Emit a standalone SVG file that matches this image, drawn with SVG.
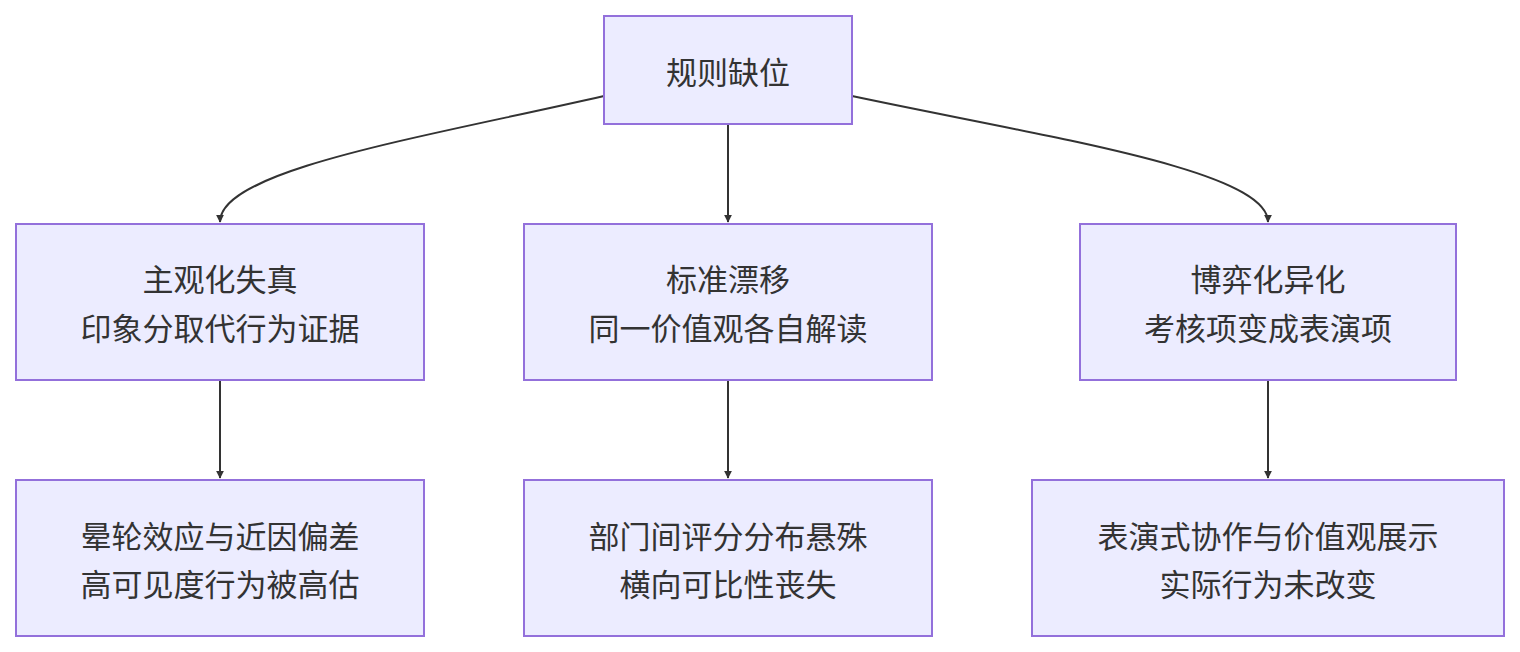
<svg xmlns="http://www.w3.org/2000/svg" width="1520" height="652" viewBox="0 0 1520 652">
<style>
.n rect{fill:#ECECFF;stroke:#9370DB;stroke-width:2}
.n text{font-family:"Noto Sans CJK SC","Noto Sans",sans-serif;font-size:31px;fill:#333;text-anchor:middle;dominant-baseline:central}
.e path{fill:none;stroke:#333;stroke-width:2;marker-end:url(#a)}
</style>
<defs><marker id="a" viewBox="0 0 10 10" refX="9" refY="5" markerWidth="8" markerHeight="8" markerUnits="userSpaceOnUse" orient="auto"><path d="M0,0L10,5L0,10z" fill="#333"/></marker></defs>
<rect width="1520" height="652" fill="#fff"/>
<g class="e">
<path d="M604,96 C420,138 220,170 220,222" transform="translate(0,0)"/>
<path d="M728,124 V222"/>
<path d="M852,96 C1050,138 1268,170 1268,222"/>
<path d="M220,380 V478"/>
<path d="M728,380 V478"/>
<path d="M1268,380 V478"/>
</g>
<g class="n" id="n0"><rect x="604" y="16" width="248" height="108"/><text x="728" y="70">规则缺位</text></g>
<g class="n" id="n1"><rect x="16" y="224" width="408" height="156"/><text x="220" y="277">主观化失真</text><text x="220" y="326">印象分取代行为证据</text></g>
<g class="n" id="n2"><rect x="524" y="224" width="408" height="156"/><text x="728" y="277">标准漂移</text><text x="728" y="326">同一价值观各自解读</text></g>
<g class="n" id="n3"><rect x="1080" y="224" width="376" height="156"/><text x="1268" y="277">博弈化异化</text><text x="1268" y="326">考核项变成表演项</text></g>
<g class="n" id="n4"><rect x="16" y="480" width="408" height="156"/><text x="220" y="534">晕轮效应与近因偏差</text><text x="220" y="582">高可见度行为被高估</text></g>
<g class="n" id="n5"><rect x="524" y="480" width="408" height="156"/><text x="728" y="534">部门间评分分布悬殊</text><text x="728" y="582">横向可比性丧失</text></g>
<g class="n" id="n6"><rect x="1032" y="480" width="472" height="156"/><text x="1268" y="534">表演式协作与价值观展示</text><text x="1268" y="582">实际行为未改变</text></g>
</svg>
